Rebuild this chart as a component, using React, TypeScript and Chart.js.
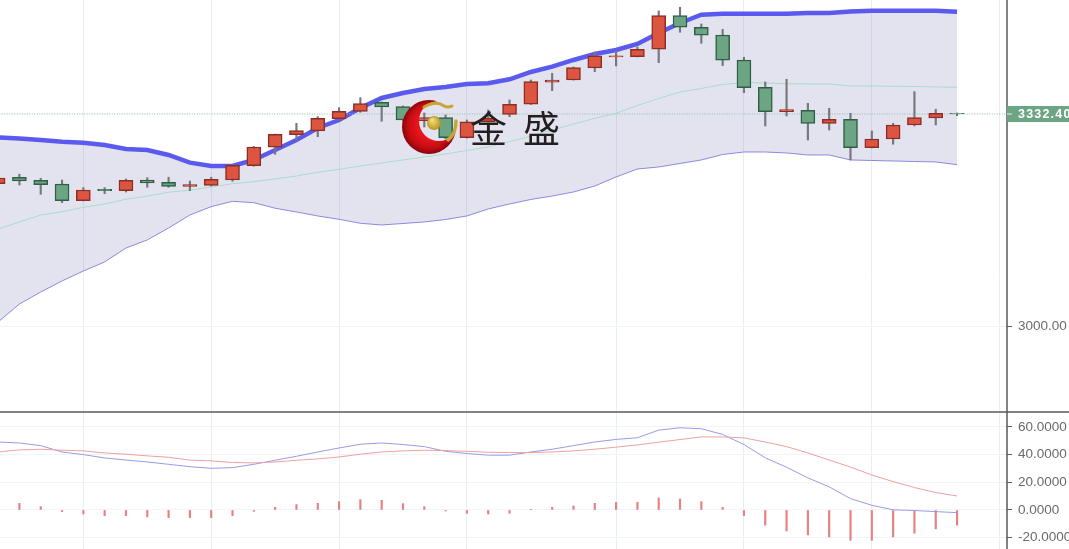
import React, { useEffect, useRef } from "react";
import { Chart, registerables } from "chart.js";

Chart.register(...registerables);

const opens = [3223.1,3233.2,3228.5,3222.7,3196.5,3214.3,3212.2,3228.9,3225.3,3219,3220.6,3228.9,3251.4,3280.2,3300,3305.8,3325,3336.3,3350.8,3343.9,3321.9,3326.6,3295.3,3320.3,3331.9,3347.6,3382.1,3385.7,3404.5,3421.8,3422.3,3433.9,3486.6,3468.4,3456.3,3417.1,3374.3,3336,3338.2,3317.8,3324.1,3279.6,3293.2,3315.2,3326.1,3333.6];
const closes = [3232.1,3227.4,3221.6,3196.5,3213.2,3212.2,3228.5,3224.2,3219,3221.6,3230,3252,3280.7,3300.6,3306.2,3325.7,3336.6,3348.9,3343.4,3323,3326.6,3295.3,3320.3,3325.7,3347.6,3383.1,3385.7,3405,3423.4,3423.4,3433.9,3486.6,3468.4,3455.8,3416.6,3373.7,3336,3339.2,3317.8,3324.1,3279.6,3293.2,3315.2,3326.6,3333.5,3332.4];
const highs = [3233.6,3237.9,3231.6,3228.9,3216.9,3216.9,3230.5,3232.5,3233.2,3227.4,3233.2,3252,3281.5,3301,3317.8,3328.2,3342.3,3358,3351.2,3345,3334,3330.8,3323,3338.7,3354.4,3385.7,3396.2,3406.1,3429.6,3431.2,3437.5,3493.9,3499.7,3473.5,3465.2,3421.3,3382.6,3386.8,3349.2,3341.4,3333.5,3305.8,3317.8,3367.4,3339.8,3334];
const lows = [3222.7,3221.1,3206.5,3193.3,3196,3207.4,3210.1,3217.5,3217.5,3212.2,3219.5,3226.9,3250.5,3269.2,3290.1,3296.8,3324.1,3335.1,3321,3321.4,3312,3293.2,3294.5,3319.9,3328.2,3347.2,3368.9,3385.5,3398.7,3407.7,3421.8,3412.9,3460.5,3443.3,3408.2,3365.8,3313.6,3329.3,3291.6,3307.3,3260.3,3279.1,3284.9,3313.6,3315.2,3329.8];

const bollUpper = [3295.6,3294,3291.6,3289,3287.4,3283.8,3277.5,3276,3268.1,3256.1,3250.9,3250.9,3260.3,3276,3291.6,3310.5,3323,3341.8,3357.5,3365.3,3371.6,3374.8,3379.5,3380.5,3386.8,3398.3,3406.6,3417.1,3426.5,3432.8,3442.2,3459.4,3475.1,3488.1,3489.7,3489.7,3489.7,3489.7,3490.8,3490.8,3493.1,3494.4,3494.4,3494.4,3494.4,3492.8];
const bollMid = [3152.1,3163.1,3174,3179.2,3186.1,3191.3,3198.7,3203.8,3209.6,3213.2,3217.9,3223.1,3226.3,3230.5,3235.2,3241,3245.7,3250.9,3255.6,3260.3,3265,3269.7,3275.2,3280.7,3289,3297.9,3307.3,3316.7,3325.4,3333.5,3345.7,3356.7,3366.9,3372.4,3378.7,3381.5,3381,3379.9,3379.5,3379.5,3376.3,3376.3,3375.9,3375.5,3374.8,3374.3];
const bollLower = [3006.3,3034.5,3053.3,3070.6,3086.2,3100.4,3122.3,3134.9,3153.7,3174,3187.1,3195.5,3193.3,3184.6,3178.8,3172.5,3167.3,3161,3158.4,3160.7,3163.1,3167,3172.5,3183.5,3191.3,3198.4,3203.8,3210.1,3219.5,3233.6,3246.2,3249.3,3254.8,3260.3,3268.9,3272.8,3272.8,3271.3,3268.1,3268.1,3260.3,3259.5,3258.7,3257.9,3257.2,3252.9];

const dif = [49.1,48.4,46.5,41.9,40,37.6,36.1,34.7,33,31.3,30.1,30.6,33,35.9,38.8,41.9,44.8,47.5,48.4,47.3,45.8,42.4,40.8,39.6,39.6,41.9,43.9,46.5,49.1,51,52.2,57.7,59.4,58.7,54.6,47.3,37.7,30.9,23.2,16.7,8.2,3.4,0.1,-0.4,-1.2,-1.9];
const dea = [41.9,43.4,43.9,43.2,42.7,41.2,40.3,39.1,38.1,36,35.5,34.3,34,34.7,35.9,36.9,38.3,40.3,41.9,42.7,43.2,42.9,42.4,41.7,41.5,41.5,41.9,42.7,43.9,45.4,47,49,50.9,52.8,52.8,52.1,49.1,45.8,41.2,36.1,31,25.3,20.5,16.2,12.6,10.1];
const macdHist = [6,4.8,2.4,-1.2,-2.9,-4.1,-4.1,-5,-5.5,-5.5,-5.5,-4.1,-1,1.9,3.9,4.8,6,7.5,7,4.6,2.4,-0.7,-2.4,-2.9,-2.4,0.5,1.9,2.9,4.8,5.5,5.5,8.7,7.9,6,1.9,-4.1,-11,-15.2,-18,-19.5,-21.9,-21.9,-19.5,-16.8,-13.7,-11];

const lastPrice = 3332.4;
const lastPriceLabel = "3332.40";
const priceTicks = [3000];
const macdTicks = [60, 40, 20, 0, -20];
const timeGridIndexes = [4, 10, 16, 22, 29, 35, 41, 47];
const watermarkChars = ["金", "盛"];

const UP = "#dc5540";
const UP_EDGE = "#8c2e25";
const DOWN = "#6ba583";
const DOWN_EDGE = "#2f5f47";
const GRID = "#e6eff4";
const GRID_H = "#f0f4f7";
const AXIS = "#5a5a5f";
const LABEL = "#6a6a6a";

const xAt = (arr: number[]) => arr.map((y, x) => ({ x, y }));

const chrome = {
  id: "chrome",
  afterDraw(chart: any) {
    const ctx: CanvasRenderingContext2D = chart.ctx;
    const y = chart.scales.y;
    const right = y.left;
    const W = chart.width;
    const H = chart.height;
    ctx.save();
    ctx.strokeStyle = AXIS;
    ctx.lineWidth = 1.5;
    ctx.beginPath();
    ctx.moveTo(0, y.bottom);
    ctx.lineTo(W, y.bottom);
    ctx.moveTo(right, 0);
    ctx.lineTo(right, H);
    ctx.stroke();

    const py = y.getPixelForValue(lastPrice);
    ctx.fillStyle = DOWN;
    ctx.fillRect(right, py - 8, W - right, 16);
    ctx.strokeStyle = "#e8f0ea";
    ctx.lineWidth = 1;
    ctx.beginPath();
    ctx.moveTo(right, py);
    ctx.lineTo(right + 5, py);
    ctx.stroke();
    ctx.fillStyle = "#ffffff";
    ctx.font = 'bold 12.5px "Liberation Sans", Arial, sans-serif';
    (ctx as any).letterSpacing = "1.2px";
    ctx.textBaseline = "middle";
    ctx.textAlign = "left";
    ctx.fillText(lastPriceLabel, right + 11, py + 0.5);
    (ctx as any).letterSpacing = "0px";

    // watermark logo
    const cx = 429, cy = 127, r = 27;
    ctx.save();
    ctx.beginPath();
    ctx.arc(cx, cy, r, 0, Math.PI * 2);
    ctx.clip();
    const g = ctx.createRadialGradient(cx + 2, cy - 2, 14, cx, cy, r + 1);
    g.addColorStop(0, "#e8141c");
    g.addColorStop(0.55, "#c80c14");
    g.addColorStop(1, "#7c0408");
    ctx.fillStyle = g;
    ctx.beginPath();
    ctx.rect(cx - r - 2, cy - r - 2, 2 * r + 4, 2 * r + 4);
    ctx.arc(cx + 10, cy - 6, 20, 0, Math.PI * 2);
    ctx.fill("evenodd");
    ctx.restore();

    ctx.strokeStyle = "#c8a437";
    ctx.lineCap = "round";
    ctx.lineWidth = 3;
    ctx.beginPath();
    ctx.moveTo(424, 107);
    ctx.quadraticCurveTo(436, 100, 444, 106);
    ctx.quadraticCurveTo(448, 108, 452, 106);
    ctx.stroke();
    ctx.lineWidth = 3.5;
    ctx.beginPath();
    ctx.moveTo(456, 121);
    ctx.quadraticCurveTo(456, 134, 448, 140);
    ctx.stroke();
    const b = ctx.createRadialGradient(432, 120, 1, 434, 123, 7);
    b.addColorStop(0, "#efdc7a");
    b.addColorStop(1, "#b8951f");
    ctx.fillStyle = b;
    ctx.beginPath();
    ctx.arc(434, 123, 7, 0, Math.PI * 2);
    ctx.fill();

    ctx.fillStyle = "#231f1f";
    ctx.font = '400 37px "Noto Sans CJK SC", sans-serif';
    ctx.textBaseline = "alphabetic";
    ctx.fillText(watermarkChars[0], 470, 143);
    ctx.fillText(watermarkChars[1], 523, 143);
    ctx.restore();
  },
};

export default function App() {
  const ref = useRef<HTMLCanvasElement | null>(null);
  useEffect(() => {
    document.body.style.margin = "0";
    document.body.style.overflow = "hidden";
    const candleColor = (edge: boolean) =>
      closes.map((c, i) => (c >= opens[i] ? (edge ? UP_EDGE : UP) : edge ? DOWN_EDGE : DOWN));
    const idx = opens.map((_, i) => i);
    const datasets: any[] = [
      {
        type: "bar",
        label: "Body",
        yAxisID: "y",
        data: idx.map((x) => ({ x, y: [opens[x], closes[x]] })),
        backgroundColor: candleColor(false),
        borderColor: candleColor(true),
        borderWidth: 1.5,
        borderSkipped: false,
        barThickness: 14,
        grouped: false,
        order: 1,
      },
      {
        type: "bar",
        label: "Wick",
        yAxisID: "y",
        data: idx.map((x) => ({ x, y: [lows[x], highs[x]] })),
        backgroundColor: "#77777c",
        barThickness: 1.5,
        grouped: false,
        order: 2,
      },
      {
        type: "line",
        label: "Upper",
        yAxisID: "y",
        data: xAt(bollUpper),
        borderColor: "#5a5aef",
        borderWidth: 4.5,
        pointRadius: 0,
        tension: 0,
        fill: { target: "+1" },
        backgroundColor: "rgba(90,90,160,0.17)",
        order: 4,
      },
      {
        type: "line",
        label: "Lower",
        yAxisID: "y",
        data: xAt(bollLower),
        borderColor: "#8f8fe6",
        borderWidth: 1,
        pointRadius: 0,
        tension: 0,
        fill: false,
        order: 5,
      },
      {
        type: "line",
        label: "Mid",
        yAxisID: "y",
        data: xAt(bollMid),
        borderColor: "#a8dccb",
        borderWidth: 1,
        pointRadius: 0,
        tension: 0,
        fill: false,
        order: 3,
      },
      {
        type: "line",
        label: "Last",
        yAxisID: "y",
        data: [
          { x: -1, y: lastPrice },
          { x: 49, y: lastPrice },
        ],
        borderColor: "#8fb8a4",
        borderWidth: 1,
        borderDash: [1, 1.5],
        pointRadius: 0,
        fill: false,
        order: 3,
      },
      {
        type: "bar",
        label: "MACD",
        yAxisID: "m",
        data: xAt(macdHist),
        backgroundColor: "#e88080",
        barThickness: 1.5,
        grouped: false,
        order: 8,
      },
      {
        type: "line",
        label: "DIF",
        yAxisID: "m",
        data: xAt(dif),
        borderColor: "#9a9ae6",
        borderWidth: 1,
        pointRadius: 0,
        tension: 0,
        fill: false,
        order: 7,
      },
      {
        type: "line",
        label: "DEA",
        yAxisID: "m",
        data: xAt(dea),
        borderColor: "#eea0a0",
        borderWidth: 1,
        pointRadius: 0,
        tension: 0,
        fill: false,
        order: 6,
      },
    ];
    const noPad = (s: any) => {
      s.paddingTop = 0;
      s.paddingBottom = 0;
      s.paddingLeft = 0;
      s.paddingRight = 0;
    };
    const yBase = {
      type: "linear",
      position: "right",
      stack: "panes",
      border: { display: false },
      afterFit: (s: any) => {
        s.width = 62;
        noPad(s);
      },
    };
    const tickFont = { family: '"Liberation Sans", Arial, sans-serif', size: 13.5 };
    const chart = new Chart(ref.current as HTMLCanvasElement, {
      type: "bar",
      data: { datasets },
      options: {
        responsive: false,
        animation: false,
        devicePixelRatio: 1,
        layout: { padding: 0 },
        plugins: { legend: { display: false }, tooltip: { enabled: false } },
        scales: {
          x: {
            type: "linear",
            offset: false,
            min: 0.089,
            max: 47.344,
            border: { display: false },
            grid: { color: GRID, offset: false, tickLength: 0 },
            ticks: { display: false },
            afterBuildTicks: (s: any) => {
              s.ticks = timeGridIndexes.map((value) => ({ value }));
            },
            afterFit: (s: any) => {
              s.height = 0;
              noPad(s);
            },
          },
          y: {
            ...yBase,
            stackWeight: 412,
            min: 2865.2,
            max: 3511.1,
            grid: { color: GRID_H, tickColor: AXIS, tickLength: 5 },
            ticks: {
              color: LABEL,
              font: tickFont,
              padding: 6,
              autoSkip: false,
              callback: (v: any) => Number(v).toFixed(2),
            },
            afterBuildTicks: (s: any) => {
              s.ticks = priceTicks.map((value) => ({ value }));
            },
          },
          m: {
            ...yBase,
            stackWeight: 137,
            min: -28.2,
            max: 70.8,
            grid: { color: GRID_H, tickColor: AXIS, tickLength: 5 },
            ticks: {
              color: LABEL,
              font: tickFont,
              padding: 6,
              autoSkip: false,
              callback: (v: any) => Number(v).toFixed(4),
            },
            afterBuildTicks: (s: any) => {
              s.ticks = macdTicks.map((value) => ({ value }));
            },
          },
        },
      } as any,
      plugins: [chrome],
    } as any);
    return () => chart.destroy();
  }, []);
  return (
    <canvas
      ref={ref}
      width={1069}
      height={549}
      style={{ display: "block", width: 1069, height: 549, filter: "blur(0.45px)" }}
    />
  );
}
